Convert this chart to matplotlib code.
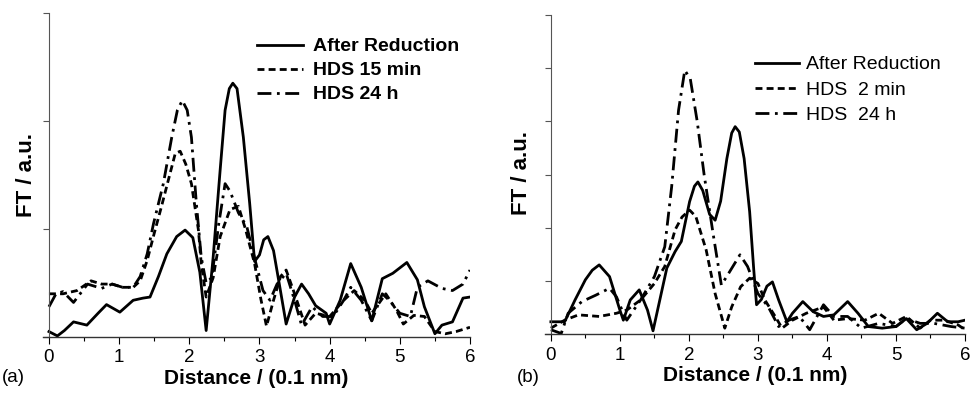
import matplotlib
matplotlib.use("Agg")
import matplotlib.pyplot as plt
from matplotlib.ticker import MultipleLocator, NullFormatter

plt.rcParams['font.family'] = ['Liberation Sans', 'DejaVu Sans']
plt.rcParams['lines.scale_dashes'] = False

# ---------- Panel (a) ----------
a_red_x = [0.00, 0.12, 0.22, 0.35, 0.54, 0.70, 0.82, 1.01, 1.20, 1.34, 1.44, 1.56, 1.68, 1.82, 1.94,
           2.05, 2.15, 2.24, 2.34, 2.44, 2.51, 2.57, 2.62, 2.68, 2.77, 2.86, 2.93, 3.00, 3.06, 3.12,
           3.20, 3.28, 3.38, 3.50, 3.60, 3.70, 3.80, 3.95, 4.00, 4.15, 4.30, 4.45, 4.60, 4.75, 4.90,
           5.10, 5.25, 5.35, 5.50, 5.60, 5.75, 5.90, 6.00]
a_red_y = [0.5, 0.1, 0.6, 1.4, 1.1, 2.2, 3.0, 2.3, 3.4, 3.6, 3.7, 5.6, 7.7, 9.3, 9.9,
           9.2, 6.0, 0.6, 7.4, 15.5, 21.0, 23.0, 23.5, 23.0, 18.5, 12.4, 7.0, 7.6, 9.0, 9.3,
           8.0, 5.0, 1.2, 3.7, 4.9, 4.0, 2.9, 2.2, 1.2, 3.4, 6.8, 4.6, 1.5, 5.4, 5.9,
           6.9, 5.3, 2.8, 0.3, 1.1, 1.4, 3.6, 3.7]

a_15m_x = [0.00, 0.20, 0.40, 0.60, 0.75, 0.90, 1.05, 1.20, 1.30, 1.40, 1.50, 1.60, 1.70, 1.80, 1.87,
           1.95, 2.03, 2.13, 2.17, 2.24, 2.34, 2.44, 2.58, 2.70, 2.80, 2.93, 3.02, 3.10, 3.20, 3.30,
           3.38, 3.50, 3.65, 3.80, 4.00, 4.20, 4.35, 4.50, 4.60, 4.80, 4.95, 5.05, 5.20, 5.35, 5.50,
           5.65, 5.80, 6.00]
a_15m_y = [4.0, 4.0, 4.3, 5.2, 4.9, 4.9, 4.6, 4.6, 5.2, 7.1, 9.6, 12.0, 14.5, 17.0, 17.2,
           16.0, 14.2, 9.9, 6.8, 3.7, 5.5, 9.3, 11.8, 12.1, 10.0, 6.8, 3.5, 1.0, 3.4, 5.6,
           6.2, 4.0, 1.1, 2.2, 1.9, 3.4, 4.3, 3.4, 2.2, 4.0, 2.5, 1.2, 2.0, 1.9, 0.5,
           0.3, 0.5, 0.9]

a_24h_x = [0.00, 0.10, 0.20, 0.35, 0.55, 0.75, 0.90, 1.05, 1.20, 1.30, 1.40, 1.49, 1.63, 1.75, 1.83,
           1.90, 1.97, 2.03, 2.10, 2.17, 2.24, 2.32, 2.42, 2.51, 2.58, 2.70, 2.82, 2.95, 3.05, 3.15,
           3.25, 3.38, 3.50, 3.60, 3.75, 3.90, 4.05, 4.20, 4.30, 4.45, 4.60, 4.75, 4.85, 5.00, 5.15,
           5.25, 5.40, 5.60, 5.75, 5.90, 6.00]
a_24h_y = [2.8, 4.0, 4.2, 3.2, 4.9, 4.5, 4.9, 4.6, 4.6, 5.6, 7.7, 10.5, 14.2, 18.5, 21.0,
           21.9, 21.0, 18.5, 12.4, 7.4, 5.0, 5.5, 10.5, 14.2, 13.5, 11.5, 10.2, 6.8, 4.3, 3.4,
           4.9, 5.9, 3.4, 1.1, 2.8, 1.9, 1.9, 3.4, 4.6, 3.4, 1.5, 4.0, 3.4, 2.2, 1.9,
           4.6, 5.2, 4.5, 4.3, 4.9, 6.2]

# ---------- Panel (b) ----------
b_red_x = [0.00, 0.20, 0.35, 0.50, 0.60, 0.70, 0.85, 1.00, 1.05, 1.15, 1.28, 1.40, 1.48, 1.58, 1.68,
           1.80, 1.89, 2.01, 2.08, 2.13, 2.20, 2.30, 2.38, 2.46, 2.55, 2.62, 2.67, 2.73, 2.80, 2.88,
           2.94, 2.98, 3.05, 3.13, 3.21, 3.30, 3.42, 3.50, 3.65, 3.80, 3.95, 4.10, 4.30, 4.45, 4.60,
           4.80, 5.00, 5.15, 5.30, 5.45, 5.60, 5.75, 5.90, 6.00]
b_red_y = [2.3, 2.3, 6.4, 10.2, 12.0, 13.0, 10.8, 4.5, 2.6, 6.4, 8.3, 4.5, 0.6, 6.5, 12.4,
           15.5, 17.4, 24.9, 27.8, 28.6, 27.0, 22.5, 21.4, 25.0, 33.0, 37.8, 39.0, 38.0, 33.0, 23.0,
           12.0, 5.5, 6.5, 9.0, 9.8, 6.4, 2.3, 3.9, 6.1, 4.2, 3.3, 3.6, 6.1, 3.9, 1.4,
           1.1, 1.4, 2.9, 0.8, 2.0, 3.9, 2.3, 2.3, 2.6]

b_2m_x = [0.00, 0.20, 0.40, 0.70, 0.95, 1.10, 1.30, 1.50, 1.65, 1.80, 1.90, 2.01, 2.10, 2.25, 2.38,
          2.52, 2.62, 2.75, 2.88, 3.00, 3.10, 3.25, 3.35, 3.50, 3.70, 3.95, 4.10, 4.30, 4.55, 4.75,
          4.95, 5.15, 5.35, 5.50, 5.70, 5.90, 6.00]
b_2m_y = [1.1, 2.6, 3.6, 3.3, 3.9, 4.5, 6.4, 9.5, 12.7, 19.6, 22.0, 23.3, 22.1, 15.8, 7.6,
          1.1, 5.1, 8.9, 10.5, 9.5, 6.4, 3.3, 1.1, 2.6, 3.9, 5.1, 2.6, 2.9, 2.6, 3.9,
          2.0, 3.3, 1.1, 2.6, 2.6, 1.7, 0.8]

b_24h_x = [0.00, 0.15, 0.25, 0.45, 0.65, 0.85, 0.95, 1.05, 1.10, 1.30, 1.50, 1.65, 1.75, 1.85, 1.94,
           2.02, 2.12, 2.22, 2.35, 2.47, 2.58, 2.74, 2.85, 3.00, 3.15, 3.30, 3.45, 3.60, 3.75, 3.95,
           4.10, 4.30, 4.50, 4.75, 5.00, 5.15, 5.35, 5.55, 5.80, 6.00]
b_24h_y = [0.8, 0.1, 3.9, 6.1, 7.3, 8.6, 7.0, 3.9, 2.6, 6.4, 10.8, 16.4, 27.7, 42.1, 49.6,
           48.0, 40.0, 30.0, 18.9, 9.2, 11.5, 14.9, 12.7, 7.6, 5.1, 1.4, 2.6, 3.3, 0.8, 5.5,
           3.3, 3.3, 1.1, 2.0, 1.4, 2.9, 2.0, 2.0, 1.4, 1.1]

labels_a = ["After Reduction", "HDS 15 min", "HDS 24 h"]
labels_b = ["After Reduction", "HDS  2 min", "HDS  24 h"]

DASHED = (0, (5, 3))
DASHDOT = (0, (10, 4, 2, 4))
LW = 2.0

fig = plt.figure(figsize=(9.71, 3.94), dpi=100)
ax_a = fig.add_axes([43/971, 1-337/394, 427/971, 324/394])
ax_b = fig.add_axes([545/971, 1-334/394, 420/971, 319/394])


def style(ax, ymax, ystep):
    ax.set_xlim(-0.085, 6)
    ax.set_ylim(0, ymax)
    for s in ('top', 'right'):
        ax.spines[s].set_visible(False)
    ax.spines['left'].set_position(('data', 0))
    ax.spines['left'].set_color('#555555')
    ax.spines['bottom'].set_color('#333333')
    ax.spines['left'].set_linewidth(0.8)
    ax.spines['bottom'].set_linewidth(1.0)
    ax.xaxis.set_major_locator(MultipleLocator(1))
    ax.xaxis.set_minor_locator(MultipleLocator(0.5))
    ax.yaxis.set_major_locator(MultipleLocator(ystep))
    ax.yaxis.set_major_formatter(NullFormatter())
    ax.tick_params(axis='x', which='major', direction='out', length=5, width=0.8,
                   labelsize=13.5, pad=4)
    ax.tick_params(axis='x', which='minor', direction='out', length=3, width=0.8)
    ax.tick_params(axis='y', which='major', direction='out', length=4, width=0.8, color='#555555')
    ax.set_xlabel("Distance / (0.1 nm)", fontsize=15, fontweight='bold', labelpad=2)


style(ax_a, 30, 10)
style(ax_b, 60, 10)

fig.text(27/971, 1-175/394, "FT / a.u.", fontsize=16, fontweight='bold',
         rotation=90, ha='center', va='center')
fig.text(521/971, 1-173/394, "FT / a.u.", fontsize=16, fontweight='bold',
         rotation=90, ha='center', va='center')

ax_a.plot(a_red_x, a_red_y, color='black', lw=LW, ls='-', label=labels_a[0])
ax_a.plot(a_15m_x, a_15m_y, color='black', lw=LW, ls=DASHED, label=labels_a[1])
ax_a.plot(a_24h_x, a_24h_y, color='black', lw=LW, ls=DASHDOT, label=labels_a[2])

ax_b.plot(b_red_x, b_red_y, color='black', lw=LW, ls='-', label=labels_b[0])
ax_b.plot(b_2m_x, b_2m_y, color='black', lw=LW, ls=DASHED, label=labels_b[1])
ax_b.plot(b_24h_x, b_24h_y, color='black', lw=LW, ls=DASHDOT, label=labels_b[2])

leg_a = ax_a.legend(loc='upper left', bbox_to_anchor=(247/971, 1-28/394),
                    bbox_transform=fig.transFigure, frameon=False, fontsize=14,
                    handlelength=2.4, handletextpad=0.5, labelspacing=0.33, borderpad=0)
for t in leg_a.get_texts():
    t.set_fontweight('bold')

leg_b = ax_b.legend(loc='upper left', bbox_to_anchor=(745/971, 1-46/394),
                    bbox_transform=fig.transFigure, frameon=False, fontsize=14,
                    handlelength=2.3, handletextpad=0.35, labelspacing=0.4, borderpad=0)

fig.text(2/971, 1-378/394, "(a)", fontsize=13.5, va='center', ha='left')
fig.text(517/971, 1-378/394, "(b)", fontsize=13.5, va='center', ha='left')

fig.savefig("out.png", dpi=100)
